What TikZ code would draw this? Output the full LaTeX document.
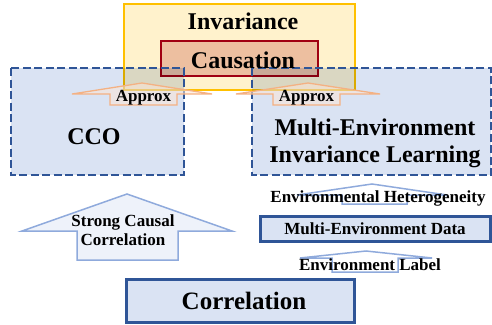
\documentclass[tikz,border=0pt]{standalone}
\usepackage{fontspec}
\setmainfont{Liberation Serif}
\usetikzlibrary{calc}
\definecolor{dblue}{HTML}{2F5597}
\definecolor{lblue}{HTML}{DAE3F3}
\definecolor{ablue}{HTML}{8FAADC}
\definecolor{pblue}{HTML}{EEF2FA}
\definecolor{yfill}{HTML}{FFF2CC}
\definecolor{yline}{HTML}{FFC000}
\definecolor{cfill}{HTML}{EDBFA0}
\definecolor{cline}{HTML}{A00012}
\definecolor{oline}{HTML}{F4B183}
\definecolor{ofill}{HTML}{FBE5D6}
\tikzset{
  dbox/.style={draw=dblue,line width=2.6pt,dash pattern=on 8pt off 3.5pt},
  sbox/.style={draw=dblue,fill=lblue,line width=3pt},
  txt/.style={font=\bfseries\fontsize{#1}{#1}\selectfont,inner sep=0pt,align=center},
  oarrow/.style={draw=oline,line width=1.3pt,fill=ofill,fill opacity=0.55},
  barrow/.style={draw=ablue,line width=1.5pt},
}
% \blockup args: style tipx tipy headhalf headbaseY shaftcenter shafthalf bottomY
\newcommand\blockup[8]{%
  \path[#1] (#2-#4,#5) -- (#2,#3) -- (#2+#4,#5) -- (#6+#7,#5) -- (#6+#7,#8) -- (#6-#7,#8) -- (#6-#7,#5) -- cycle;}
\begin{document}
\begin{tikzpicture}[x=1pt,y=-1pt]
\useasboundingbox (0,0) rectangle (492,324);
% invariance + causation
\path[fill=yfill,draw=yline,line width=2.8pt] (124,4) rectangle (355,90);
\path[fill=cfill,draw=cline,line width=2.4pt] (161,41) rectangle (318,76);
% dashed boxes (multiply fill)
\path[fill=lblue,blend mode=multiply] (11,68) rectangle (184,175);
\path[fill=lblue,blend mode=multiply] (252,68) rectangle (491,175);
\path[dbox] (11,68) rectangle (184,175);
\path[dbox] (252,68) rectangle (491,175);
\node[txt=24] (inv) at (243,21) {Invariance};
\node[txt=24] (cau) at (243,60) {Causation};
\node[txt=24] (cco) at (94,137) {CCO};
\node[txt=24] (meil) at (375,143) {Multi-Environment\\[3pt]Invariance Learning};
% approx arrows
\blockup{oarrow}{142}{83}{70}{94}{143.5}{33.5}{105}
\blockup{oarrow}{308}{83}{72}{94}{306.5}{33.5}{105}
\node[txt=17] (ap1) at (143.5,98) {Approx};
\node[txt=17] (ap2) at (306.5,98) {Approx};
% strong causal arrow
\blockup{barrow,fill=pblue}{127}{194}{105}{231}{127.5}{50.5}{260}
\node[txt=17] (scc) at (123,230) {Strong Causal\\[2pt]Correlation};
% environmental heterogeneity arrow
\blockup{barrow}{372}{184}{75}{195}{374.5}{32.5}{204}
\node[txt=17] (eh) at (378,198) {Environmental Heterogeneity};
% multi-environment data
\path[sbox] (260.5,216.5) rectangle (490.5,241.5);
\node[txt=17] (med) at (375,229) {Multi-Environment Data};
% environment label arrow
\blockup{barrow}{366}{251}{66}{258}{365}{33}{272}
\node[txt=17] (el) at (370,265) {Environment Label};
% correlation
\path[sbox] (126,279) rectangle (354,322);
\node[txt=25] (corr) at (244,301) {Correlation};
\end{tikzpicture}
\end{document}
